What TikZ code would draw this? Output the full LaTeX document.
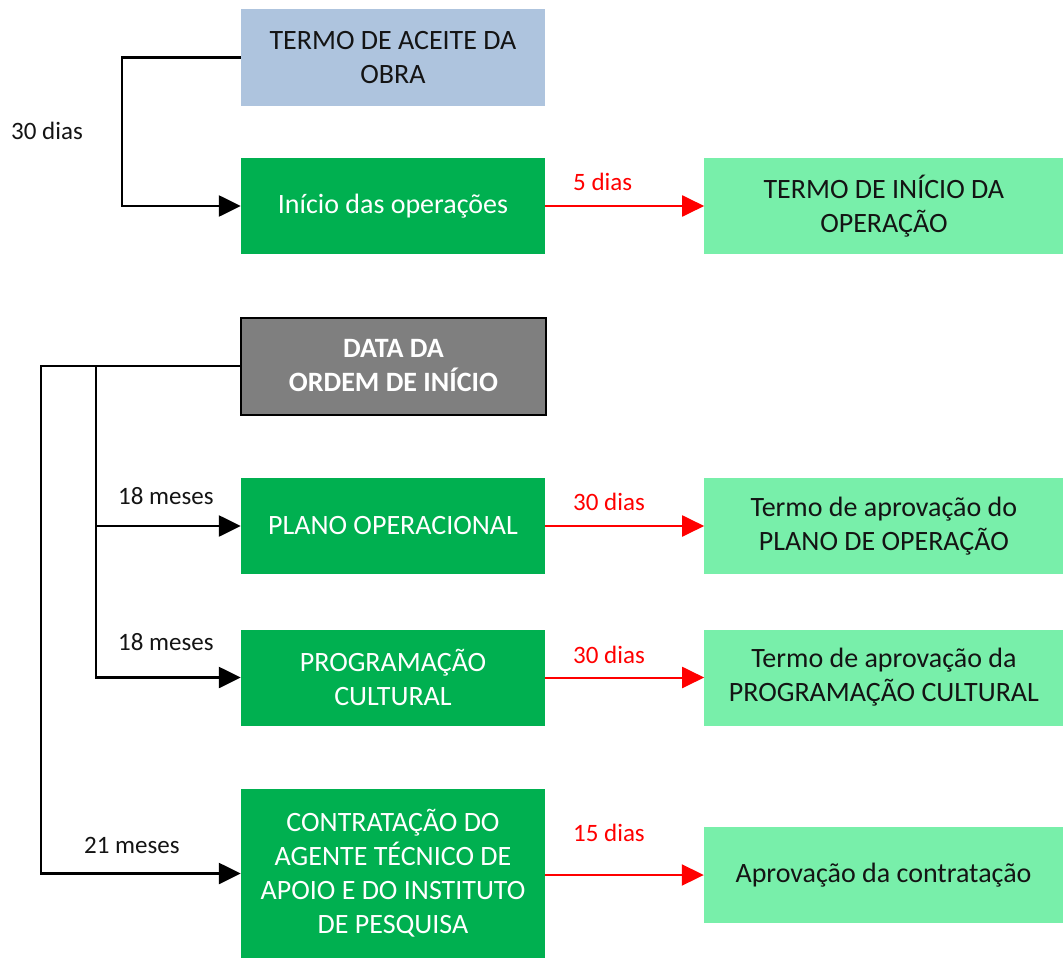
\documentclass[tikz,border=0pt]{standalone}
\usepackage{fontspec}
\setmainfont{Carlito}
\usetikzlibrary{arrows.meta, positioning}
\definecolor{colblue}{RGB}{174,196,222}
\definecolor{colgreen}{RGB}{0,176,80}
\definecolor{collight}{RGB}{120,239,170}
\definecolor{colgray}{RGB}{127,127,127}
\definecolor{colred}{RGB}{255,0,0}
\definecolor{coltext}{RGB}{20,20,20}

\begin{document}
\begin{tikzpicture}[x=1pt, y=-1pt,
  box/.style={rectangle, minimum width=304pt, minimum height=96pt,
              align=center, inner sep=2pt,
              font=\fontsize{28}{34}\selectfont},
  stage/.style={box, fill=colgreen, text=white},
  result/.style={box, fill=collight, text=coltext, minimum width=359pt},
  conn/.style={-{Triangle[length=22pt,width=21pt]}, line width=2.5pt, black},
  redconn/.style={-{Triangle[length=22pt,width=21pt]}, line width=2pt, colred},
  lbl/.style={font=\fontsize{25}{30}\selectfont, inner sep=0pt,
              anchor=base west, text=coltext},
  rlbl/.style={font=\fontsize{25}{30}\selectfont, inner sep=0pt,
               anchor=south west, text=colred}
]
\useasboundingbox (0,0) rectangle (1063,958);

% Upper block
\node[box, fill=colblue, text=coltext] (aceite) at (393,57.5)
    {TERMO DE ACEITE DA\\OBRA};
\node[stage] (inicio) at (393,206) {Início das operações};
\node[result, right=159pt of inicio] (termoini)
    {TERMO DE INÍCIO DA\\OPERAÇÃO};

% Lower block
\node[box, fill=colgray, text=white, draw=black, line width=2pt,
      minimum width=305pt, minimum height=97pt,
      font=\fontsize{28}{34}\selectfont\bfseries] (data) at (393.5,366)
    {DATA DA\\ORDEM DE INÍCIO};
\node[stage] (plano) at (393,526) {PLANO OPERACIONAL};
\node[result, right=159pt of plano] (aprplano)
    {Termo de aprovação do\\PLANO DE OPERAÇÃO};
\node[stage] (prog) at (393,677.5) {PROGRAMAÇÃO\\CULTURAL};
\node[result, right=159pt of prog] (aprprog)
    {Termo de aprovação da\\PROGRAMAÇÃO CULTURAL};
\node[stage, minimum height=169pt] (contrat) at (393,873.5)
    {CONTRATAÇÃO DO\\AGENTE TÉCNICO DE\\APOIO E DO INSTITUTO\\DE PESQUISA};
\node[result] (aprcontrat) at (883.5,875) {Aprovação da contratação};

% Black deadlines
\draw[conn] (aceite.west) -- ++(-119,0) |- (inicio.west);
\node[lbl] (l30) at (11,139) {30 dias};
\coordinate (split) at ([xshift=-144pt]data.west);
\draw[conn] (data.west) -- ++(-199,0) |- (contrat.west);
\draw[conn] (split) |- (plano.west);
\draw[conn] (split) |- (prog.west);
\node[lbl] (l18a) at (118,504) {18 meses};
\node[lbl] (l18b) at (118,650) {18 meses};
\node[lbl] (l21) at (84,853) {21 meses};

% Red deadlines
\draw[redconn] (inicio.east) --
    node[rlbl, pos=0.17, yshift=14pt] (l5) {5 dias} (termoini.west);
\draw[redconn] (plano.east) --
    node[rlbl, pos=0.17, yshift=14pt] (l30a) {30 dias} (aprplano.west);
\draw[redconn] (prog.east) --
    node[rlbl, pos=0.17, yshift=13pt] (l30b) {30 dias} (aprprog.west);
\draw[redconn] (contrat.east|-aprcontrat.west) --
    node[rlbl, pos=0.17, yshift=32pt] (l15) {15 dias} (aprcontrat.west);
\end{tikzpicture}
\end{document}
